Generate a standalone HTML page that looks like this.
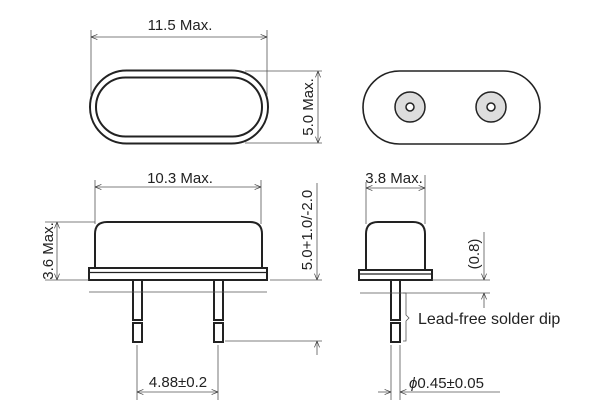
<!DOCTYPE html>
<html><head><style>body{margin:0;background:#fff}svg{display:block}text{font-family:"Liberation Sans",sans-serif;font-size:15px;fill:#222}</style></head><body>
<svg width="600" height="420" viewBox="0 0 600 420">
<defs><marker id="a" viewBox="0 0 10 10" refX="10" refY="5" markerWidth="8" markerHeight="8" orient="auto-start-reverse"><path d="M0,1 L10,5 L0,9" fill="none" stroke="#333" stroke-width="1"/></marker></defs>
<g fill="none" stroke="#222">
<rect x="90" y="70.5" width="178" height="73" rx="36.5" stroke-width="2"/>
<rect x="96" y="77.5" width="166" height="59" rx="29.5" stroke-width="2"/>
<rect x="363" y="71" width="177" height="73" rx="36.5" stroke-width="1.6"/>
<circle cx="410" cy="107" r="15" fill="#ddd" stroke-width="1.5"/><circle cx="410" cy="107" r="4" fill="#fff" stroke-width="1.5"/>
<circle cx="491" cy="107" r="15" fill="#ddd" stroke-width="1.5"/><circle cx="491" cy="107" r="4" fill="#fff" stroke-width="1.5"/>
<path d="M95,268 V234 Q95,222 107,222 H250 Q262,222 262,234 V268" stroke-width="2"/>
<rect x="89" y="268" width="178" height="12" stroke-width="2"/><line x1="89" y1="272.5" x2="267" y2="272.5" stroke-width="1.2"/>
<rect x="133" y="280" width="9" height="40" stroke-width="2"/><rect x="133" y="323" width="9" height="19" stroke-width="2"/>
<rect x="214" y="280" width="9" height="40" stroke-width="2"/><rect x="214" y="323" width="9" height="19" stroke-width="2"/>
<path d="M366,270 V234 Q366,222 378,222 H413 Q425,222 425,234 V270" stroke-width="2"/>
<rect x="359" y="270" width="73" height="10" stroke-width="2"/><line x1="359" y1="274" x2="432" y2="274" stroke-width="1.2"/>
<rect x="391" y="280" width="9" height="40" stroke-width="2"/><rect x="391" y="323" width="9" height="19" stroke-width="2"/>
</g>
<g fill="none" stroke="#555" stroke-width="0.8">
<line x1="91" y1="30" x2="91" y2="95"/><line x1="267" y1="30" x2="267" y2="95"/>
<line x1="91" y1="37" x2="267" y2="37" marker-start="url(#a)" marker-end="url(#a)"/>
<line x1="245" y1="71" x2="322" y2="71"/><line x1="245" y1="143" x2="322" y2="143"/>
<line x1="318" y1="71" x2="318" y2="143" marker-start="url(#a)" marker-end="url(#a)"/>
<line x1="95" y1="180" x2="95" y2="224"/><line x1="261" y1="180" x2="261" y2="224"/>
<line x1="95" y1="187" x2="261" y2="187" marker-start="url(#a)" marker-end="url(#a)"/>
<line x1="45" y1="222" x2="95" y2="222"/><line x1="45" y1="280" x2="89" y2="280"/>
<line x1="57" y1="222" x2="57" y2="280" marker-start="url(#a)" marker-end="url(#a)"/>
<line x1="89" y1="292" x2="267" y2="292"/><line x1="360" y1="293" x2="490" y2="293"/>
<line x1="270" y1="280" x2="322" y2="280"/><line x1="225" y1="341" x2="322" y2="341"/>
<line x1="317" y1="183" x2="317" y2="280" marker-end="url(#a)"/>
<line x1="317" y1="355" x2="317" y2="341" marker-end="url(#a)"/>
<line x1="137" y1="345" x2="137" y2="400"/><line x1="218" y1="345" x2="218" y2="400"/>
<line x1="137" y1="392" x2="218" y2="392" marker-start="url(#a)" marker-end="url(#a)"/>
<line x1="366" y1="182" x2="366" y2="224"/><line x1="425" y1="175" x2="425" y2="224"/>
<line x1="366" y1="188" x2="425" y2="188" marker-start="url(#a)" marker-end="url(#a)"/>
<line x1="432" y1="280" x2="490" y2="280"/>
<line x1="484" y1="232" x2="484" y2="280" marker-end="url(#a)"/>
<line x1="484" y1="308" x2="484" y2="293" marker-end="url(#a)"/>
<path d="M403,293 H406 V315 L409,318 L406,321 V341 H403"/>
<line x1="391" y1="345" x2="391" y2="400"/><line x1="400" y1="345" x2="400" y2="400"/>
<line x1="378" y1="392" x2="391" y2="392" marker-end="url(#a)"/>
<line x1="500" y1="392" x2="400" y2="392" marker-end="url(#a)"/>
</g>
<text x="180" y="30" text-anchor="middle">11.5 Max.</text>
<text transform="translate(313,107) rotate(-90)" text-anchor="middle">5.0 Max.</text>
<text x="180" y="183" text-anchor="middle">10.3 Max.</text>
<text transform="translate(53,251) rotate(-90)" text-anchor="middle">3.6 Max.</text>
<text transform="translate(312,230) rotate(-90)" text-anchor="middle">5.0+1.0/-2.0</text>
<text x="178" y="387" text-anchor="middle">4.88±0.2</text>
<text x="394" y="183" text-anchor="middle">3.8 Max.</text>
<text transform="translate(479,254) rotate(-90)" text-anchor="middle">(0.8)</text>
<text x="418" y="324" style="font-size:16px">Lead-free solder dip</text>
<text x="409" y="388"><tspan font-style="italic">ϕ</tspan>0.45±0.05</text>
</svg>
</body></html>
